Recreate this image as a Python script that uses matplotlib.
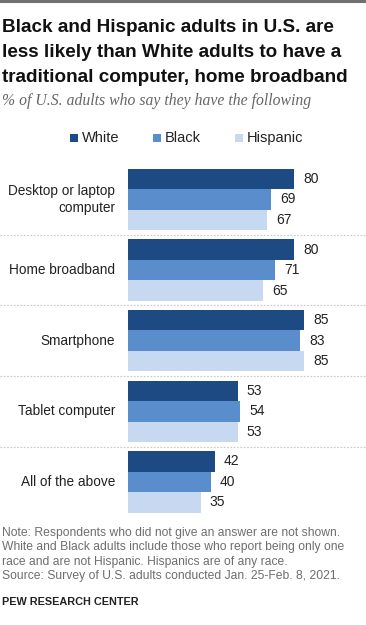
import numpy as np
import matplotlib
matplotlib.use("Agg")
import matplotlib.pyplot as plt

categories = ["Desktop or laptop\ncomputer", "Home broadband", "Smartphone",
              "Tablet computer", "All of the above"]
groups = ["White", "Black", "Hispanic"]
white = [80, 80, 85, 53, 42]
black = [69, 71, 83, 54, 40]
hispanic = [67, 65, 85, 53, 35]

colors = ["#1d4a82", "#5a8dcc", "#c6d9f0"]

W, H = 366, 625
fig = plt.figure(figsize=(W / 100, H / 100), dpi=100)
plt.rcParams['font.family'] = ['Liberation Sans', 'DejaVu Sans']

def fy(py):
    return 1 - py / H

# top rule
fig.add_artist(plt.Line2D([0, 1], [fy(1), fy(1)], color="#707070", lw=2.2))

title = ("Black and Hispanic adults in U.S. are\n"
         "less likely than White adults to have a\n"
         "traditional computer, home broadband")
fig.text(2 / W, fy(19), title, fontsize=13.6, fontweight="bold", color="#111111",
         va="top", ha="left", linespacing=1.6)
fig.text(2 / W, fy(101), "% of U.S. adults who say they have the following",
         fontsize=11.3, style="italic", family="Liberation Serif", color="#666666",
         va="center", ha="left")

# legend
leg_x = [70, 153, 235]
for gx, name, c in zip(leg_x, groups, colors):
    fig.add_artist(plt.Rectangle((gx / W, fy(142)), 8 / W, 8 / H, color=c, lw=0))
    fig.text((gx + 12) / W, fy(138), name, fontsize=10.5, color="#222222",
             va="center", ha="left")

# axes: x 0 -> px 128, 2.075 px per unit
ppu = 2.075
x0 = 128
top_y, bot_y = 157.1, 524.3
ax = fig.add_axes([0, 1 - bot_y / H, 1, (bot_y - top_y) / H])
ax.set_xlim(-x0 / ppu, (W - x0) / ppu)
ax.set_ylim(4.6, -0.6)
ax.axis("off")

bh = 0.29
y = np.arange(len(categories))
for k, (vals, c) in enumerate(zip([white, black, hispanic], colors)):
    yy = y + (k - 1) * bh
    ax.barh(yy, vals, height=bh, color=c, lw=0)
    for yi, v in zip(yy, vals):
        ax.text(v + 4.3, yi, str(v), fontsize=10, color="#222222",
                va="center", ha="left")

for yi, cat in zip(y, categories):
    ax.text(-6.3, yi, cat, fontsize=9.8, color="#222222", va="center",
            ha="right", linespacing=1.2)

for s in y[:-1] + 0.5:
    ax.axhline(s, color="#c8c8c8", lw=0.8, ls=(0, (1.5, 1.5)))

note = ("Note: Respondents who did not give an answer are not shown.\n"
        "White and Black adults include those who report being only one\n"
        "race and are not Hispanic. Hispanics are of any race.\n"
        "Source: Survey of U.S. adults conducted Jan. 25-Feb. 8, 2021.")
fig.text(2 / W, fy(527), note, fontsize=8.7, color="#6e6e6e", va="top",
         ha="left", linespacing=1.27)
fig.text(2 / W, fy(602), "PEW RESEARCH CENTER", fontsize=7.8, fontweight="bold",
         color="#222222", va="center", ha="left")

fig.savefig("out.png", dpi=100)
